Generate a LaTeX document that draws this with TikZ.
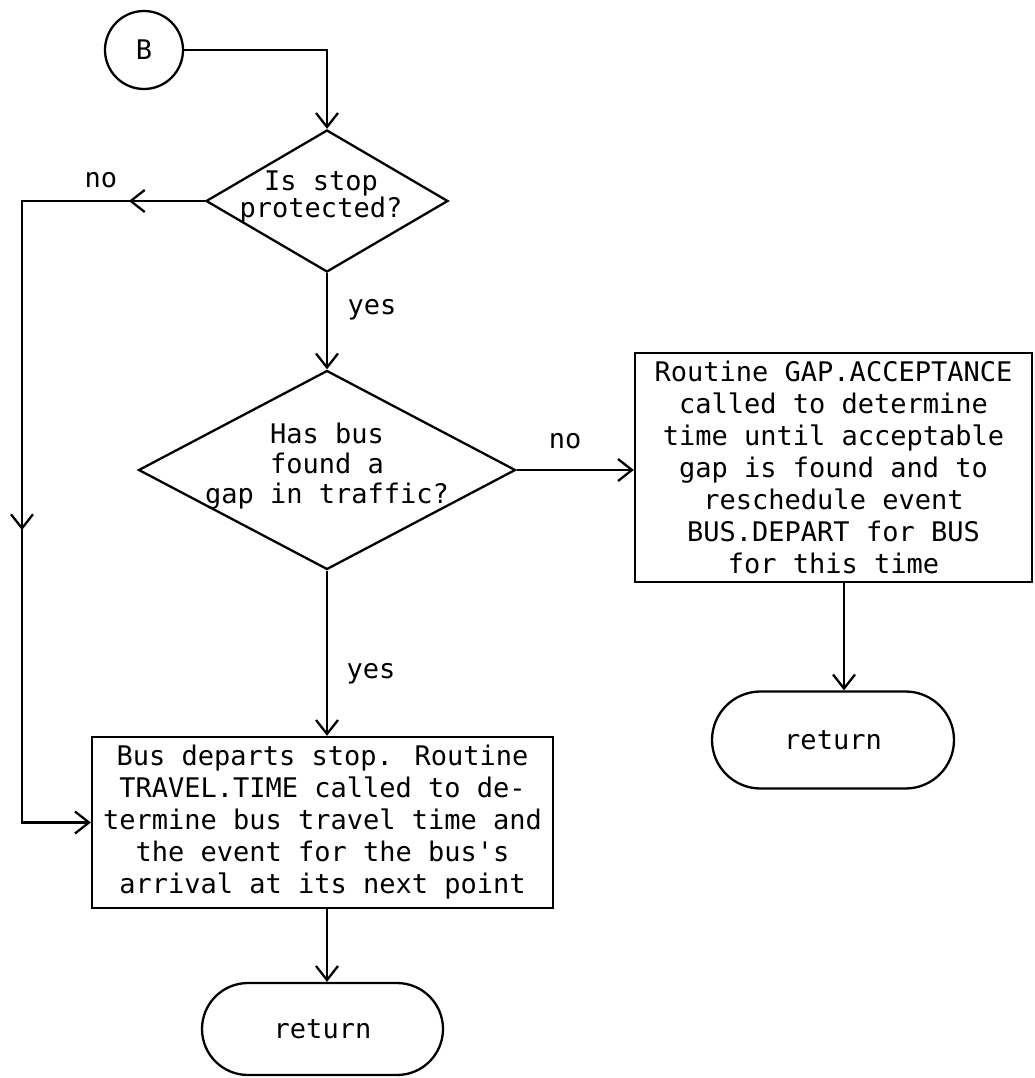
\documentclass[tikz,border=0pt]{standalone}
\usepackage{fontspec}
\newfontfamily\tw{DejaVu Sans Mono}
\usetikzlibrary{shapes.geometric,shapes.misc,arrows.meta,decorations.markings}
\begin{document}
\begin{tikzpicture}[x=1pt,y=-1pt,
  line width=2.3pt,
  every node/.style={font=\tw\fontsize{27}{32}\selectfont},
  tip/.style={-{Straight Barb[length=14pt,width=22pt]}},
  box/.style={draw, rectangle, inner sep=0pt, align=center},
  dec/.style={draw, diamond, inner sep=0pt},
  term/.style={draw, rounded rectangle, inner sep=0pt},
  dtext/.style={align=center, inner sep=0pt},
  lbl/.style={anchor=base, inner sep=0pt}
]
\useasboundingbox (0,0) rectangle (1035,1078);

% nodes
\node[draw, circle, minimum size=78pt, inner sep=0pt] (b) at (144,50) {B};
\node[dec, minimum width=242pt, minimum height=142pt] (d1) at (327,201) {};
\node[dtext, font=\tw\fontsize{27}{26}\selectfont] (d1t) at (321,197) {Is stop\\protected?};
\node[dec, minimum width=377pt, minimum height=199pt] (d2) at (327,470) {};
\node[dtext, font=\tw\fontsize{27}{30}\selectfont] (d2t) at (327,466) {Has bus\\found a\\gap in traffic?};
\node[box, minimum width=397pt, minimum height=229pt] (gap) at (833.5,467.5)
  {Routine GAP.ACCEPTANCE\\called to determine\\time until acceptable\\gap is found and to\\reschedule event\\BUS.DEPART for BUS\\for this time};
\node[box, minimum width=461pt, minimum height=171pt] (bus) at (322.5,822.5)
  {Bus departs stop. Routine\\TRAVEL.TIME called to de-\\termine bus travel time and\\the event for the bus's\\arrival at its next point};
\node[term, minimum width=242pt, minimum height=97pt] (ret1) at (833,740) {return};
\node[term, minimum width=241pt, minimum height=92pt] (ret2) at (322.5,1029) {return};
\coordinate (lx) at (22,0);

% labels
\node[lbl] (no1) at (101,187) {no};
\node[lbl] (yes1) at (372,314) {yes};
\node[lbl] (no2) at (565,448) {no};
\node[lbl] (yes2) at (371,678) {yes};

% connectors
\draw[tip] (b.east) -| (d1.north);
\draw[tip, postaction={decorate}, decoration={markings,
    mark=at position 76pt with {\arrow{Straight Barb[length=14pt,width=22pt]}},
    mark=at position 512pt with {\arrow{Straight Barb[length=14pt,width=22pt]}}}]
  (d1.west) -- (d1.west -| lx) |- (bus.west);
\draw[tip] (d1.south) -- (d2.north);
\draw[tip] (d2.east) -- (d2.east -| gap.west);
\draw[tip] (d2.south) -- (d2.south |- bus.north);
\draw[tip] ([xshift=10.5pt]gap.south) -- ([xshift=10.5pt]gap.south |- ret1.north);
\draw[tip] (d2.south |- bus.south) -- (d2.south |- ret2.north);
\end{tikzpicture}
\end{document}
